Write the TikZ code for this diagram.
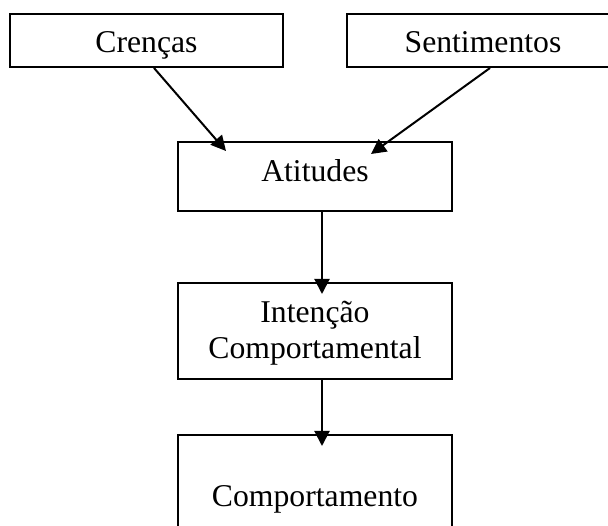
\documentclass[tikz,border=0pt]{standalone}
\usepackage{fontspec}
\setmainfont{Liberation Serif}
\usetikzlibrary{arrows.meta,calc}
\begin{document}
\begin{tikzpicture}[x=1pt,y=-1pt,
  boxnode/.style={draw=black,line width=2pt,rectangle,inner sep=0pt},
  lbl/.style={anchor=base,inner sep=0pt,font=\fontsize{31.7}{36}\selectfont},
  conn/.style={line width=2pt,-{Triangle[length=15pt,width=15pt]}}]
\useasboundingbox (0,0) rectangle (608,526);
\clip (0,0) rectangle (608,526);
\fill[white] (0,0) rectangle (608,526);
% boxes
\node[boxnode,minimum width=273pt,minimum height=53pt] (cren) at (146.5,40.5) {};
\node[boxnode,minimum width=272pt,minimum height=53pt] (sent) at (483,40.5) {};
\node[boxnode,minimum width=274pt,minimum height=69pt] (atit) at (315,176.5) {};
\node[boxnode,minimum width=274pt,minimum height=96pt] (inte) at (315,331) {};
\node[boxnode,minimum width=274pt,minimum height=125pt] (comp) at (315,497.5) {};
% labels
\node[lbl] (tcren) at (146.5,53) {Crenças};
\node[lbl] (tsent) at (483,53) {Sentimentos};
\node[lbl] (tatit) at (315,182) {Atitudes};
\node[lbl] (tinte1) at (315,323) {Intenção};
\node[lbl] (tinte2) at (315,359) {Comportamental};
\node[lbl] (tcomp) at (315,506) {Comportamento};
% connectors
\coordinate (a1) at ($(cren.south west)+(145,0)$);
\coordinate (b1) at ($(atit.north west)+(49,10)$);
\coordinate (a2) at ($(sent.south west)+(144,0)$);
\coordinate (b2) at ($(atit.north west)+(194,13)$);
\draw[conn] (a1) -- (b1);
\draw[conn] (a2) -- (b2);
\coordinate (a3) at ($(atit.south west)+(145,0)$);
\coordinate (b3) at ($(inte.north west)+(145,12)$);
\draw[conn] (a3) -- (b3);
\coordinate (a4) at ($(inte.south west)+(145,0)$);
\coordinate (b4) at ($(comp.north west)+(145,12)$);
\draw[conn] (a4) -- (b4);
\end{tikzpicture}
\end{document}
